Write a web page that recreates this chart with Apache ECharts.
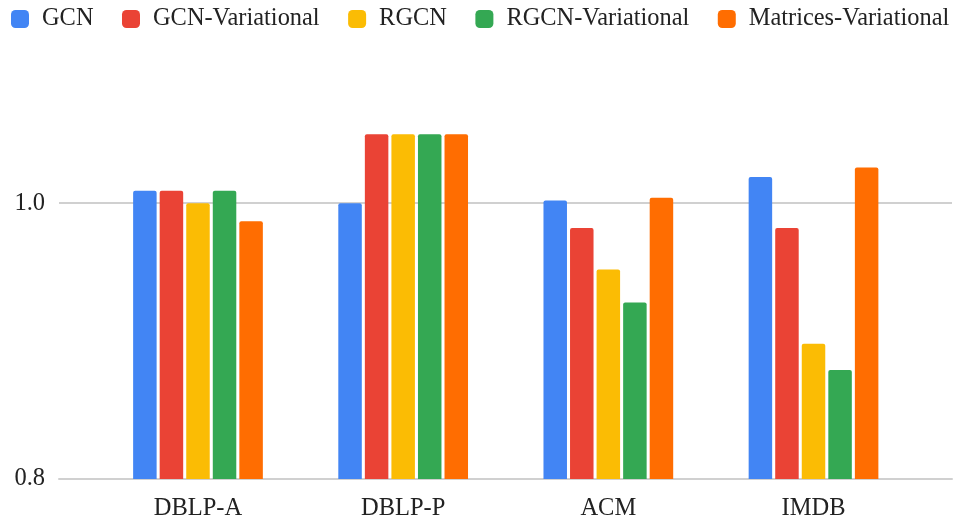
<!DOCTYPE html>
<html>
<head>
<meta charset="utf-8">
<script src="https://cdn.jsdelivr.net/npm/echarts@6/dist/echarts.min.js"></script>
<style>
  html, body { margin: 0; padding: 0; background: #fff; }
  #chart { width: 960px; height: 524px; }
</style>
</head>
<body>
<div id="chart"></div>
<script>
// Datasets on the x axis
const categories = ['DBLP-A', 'DBLP-P', 'ACM', 'IMDB'];

// Scores per model
const gcn = [1.009, 1.0, 1.002, 1.019];
const gcnVariational = [1.009, 1.05, 0.982, 0.982];
const rgcn = [1.0, 1.05, 0.952, 0.898];
const rgcnVariational = [1.009, 1.05, 0.928, 0.879];
const matricesVariational = [0.987, 1.05, 1.004, 1.026];

const seriesNames = ['GCN', 'GCN-Variational', 'RGCN', 'RGCN-Variational', 'Matrices-Variational'];
const seriesValues = [gcn, gcnVariational, rgcn, rgcnVariational, matricesVariational];
const colors = ['#4285F4', '#EA4335', '#FBBC04', '#34A853', '#FF6D01'];

// Y-axis range and tick step
const yMin = 0.8;
const yMax = 1.06;
const yStep = 0.2;

const FONT = 'Liberation Serif';
const TEXT = '#222';

const chart = echarts.init(document.getElementById('chart'), null, { renderer: 'canvas' });

chart.setOption({
  backgroundColor: '#fff',
  animation: false,
  color: colors,
  legend: {
    top: 2,
    left: 6,
    itemWidth: 18,
    itemHeight: 18,
    itemGap: 28.5,
    icon: 'roundRect',
    textStyle: { fontFamily: FONT, fontSize: 24.4, color: TEXT, padding: [0, 0, 0, 8] },
    data: seriesNames
  },
  grid: [
    // frame grid: gridlines and y labels across the full width
    { left: 59, right: 8, top: 120.5, bottom: 45 },
    // bar grid: narrower category band
    { left: 95.4, right: 43.9, top: 120.5, bottom: 45 }
  ],
  xAxis: [
    {
      gridIndex: 0,
      type: 'value',
      min: 0,
      max: 1,
      axisLine: { show: true, lineStyle: { color: '#d0d0d0', width: 2 } },
      axisTick: { show: false },
      axisLabel: { show: false },
      splitLine: { show: false }
    },
    {
      gridIndex: 1,
      type: 'category',
      data: categories,
      axisLine: { show: false },
      axisTick: { show: false },
      axisLabel: { fontFamily: FONT, fontSize: 24.5, color: TEXT, margin: 17 }
    }
  ],
  yAxis: [
    {
      gridIndex: 0,
      type: 'value',
      min: yMin,
      max: yMax,
      interval: yStep,
      axisLine: { show: false },
      axisTick: { show: false },
      axisLabel: {
        fontFamily: FONT, fontSize: 24.5, color: TEXT, margin: 14,
        showMaxLabel: false,
        formatter: v => v.toFixed(1)
      },
      splitLine: { show: true, showMaxLine: false, lineStyle: { color: '#d0d0d0', width: 2 } }
    },
    {
      gridIndex: 1,
      type: 'value',
      min: yMin,
      max: yMax,
      interval: yStep,
      show: false
    }
  ],
  series: seriesNames.map((name, i) => ({
    name: name,
    type: 'bar',
    xAxisIndex: 1,
    yAxisIndex: 1,
    barWidth: 23.5,
    barGap: '13%',
    itemStyle: { color: colors[i], borderRadius: [2, 2, 0, 0] },
    data: seriesValues[i]
  }))
});
</script>
</body>
</html>
